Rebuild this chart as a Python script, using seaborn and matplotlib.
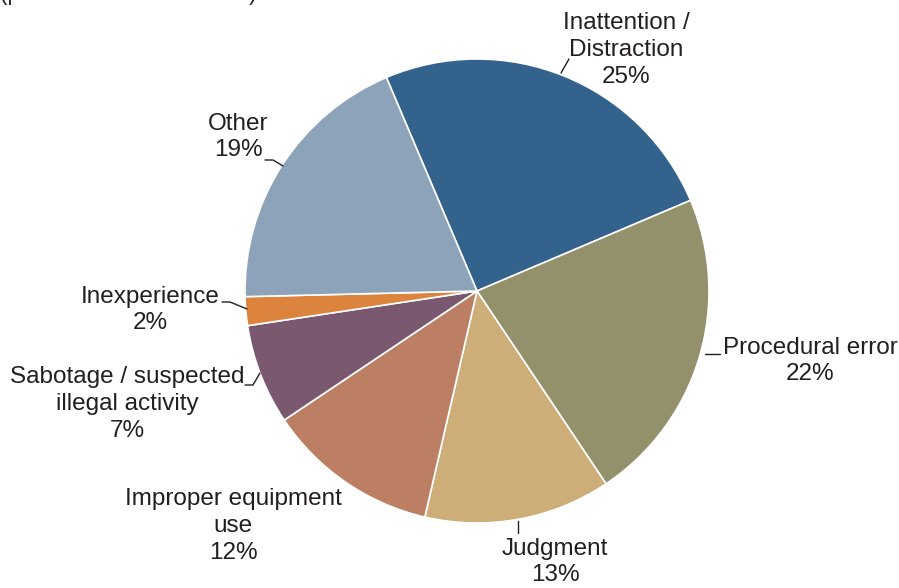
import matplotlib
matplotlib.use('Agg')
import matplotlib.pyplot as plt
import seaborn as sns

sns.set_theme(style='white')
plt.rcParams['font.family'] = ['Liberation Sans', 'DejaVu Sans']

# data
causes = ['Inattention /\nDistraction', 'Procedural error', 'Judgment',
          'Improper equipment\nuse', 'Sabotage / suspected\nillegal activity',
          'Inexperience', 'Other']
shares = [25, 22, 13, 12, 7, 2, 19]
colors = ['#33638c', '#92916c', '#cdae78', '#bd7f63', '#7a586f', '#dc843e', '#8ca3ba']

# label placement in pixel space (x, y from top)
label_xy = [(626, 50), (810, 361), (555, 562), (233, 526), (127, 404), (150, 310), (238, 137)]
leaders = [
    [(561, 73), (569, 59)],
    [(705, 354), (720, 354)],
    [(518, 521), (518, 533)],
    None,
    [(245, 385), (253, 385), (260, 373)],
    [(222, 302), (230, 302), (247, 309)],
    [(265, 160), (273, 160), (283, 166)],
]

W, H = 899, 588
txt = '#231f20'

fig = plt.figure(figsize=(W / 100, H / 100), dpi=100)
ax = fig.add_axes([0, 0, 1, 1])
ax.axis('off')

ax.pie(shares, colors=colors, startangle=113, counterclock=False,
       center=(477, H - 291), radius=232,
       wedgeprops=dict(edgecolor='white', linewidth=1.2))

for name, pct, (x, y), ld in zip(causes, shares, label_xy, leaders):
    ax.text(x, H - y, f'{name}\n{pct}%', ha='center', va='center',
            fontsize=17.5, color=txt, linespacing=1.27)
    if ld:
        ax.plot([p[0] for p in ld], [H - p[1] for p in ld], color=txt, lw=1)

# subtitle, clipped at the top edge in the source
fig.text(0.0, 1.0, '(percent of total incidents)', ha='left', va='baseline',
         fontsize=16, color=txt)

ax.set_xlim(0, W)
ax.set_ylim(0, H)
ax.set_aspect('equal')
fig.savefig('out.png', dpi=100)
